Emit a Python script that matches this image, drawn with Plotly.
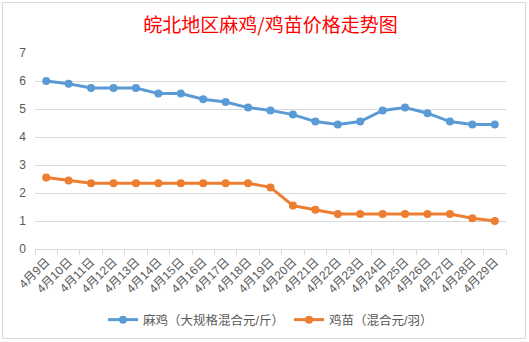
import plotly.graph_objects as go

dates = ["4月9日", "4月10日", "4月11日", "4月12日", "4月13日", "4月14日", "4月15日",
         "4月16日", "4月17日", "4月18日", "4月19日", "4月20日", "4月21日", "4月22日",
         "4月23日", "4月24日", "4月25日", "4月26日", "4月27日", "4月28日", "4月29日"]
maji = [6.0, 5.9, 5.75, 5.75, 5.75, 5.55, 5.55, 5.35, 5.25, 5.05, 4.95,
        4.8, 4.55, 4.45, 4.55, 4.95, 5.05, 4.85, 4.55, 4.45, 4.45]
jimiao = [2.55, 2.45, 2.35, 2.35, 2.35, 2.35, 2.35, 2.35, 2.35, 2.35, 2.2,
          1.55, 1.4, 1.25, 1.25, 1.25, 1.25, 1.25, 1.25, 1.1, 1.0]
name_maji = "麻鸡（大规格混合元/斤）"
name_jimiao = "鸡苗（混合元/羽）"
title_text = "皖北地区麻鸡/鸡苗价格走势图"
yticks = [0, 1, 2, 3, 4, 5, 6, 7]

FONT = "Liberation Sans, Noto Sans CJK SC, sans-serif"
GREY = "#595959"

fig = go.Figure()
fig.add_trace(go.Scatter(x=dates, y=maji, name=name_maji, mode="lines+markers",
                         line=dict(color="#5B9BD5", width=3),
                         marker=dict(color="#5B9BD5", size=8)))
fig.add_trace(go.Scatter(x=dates, y=jimiao, name=name_jimiao, mode="lines+markers",
                         line=dict(color="#ED7D31", width=3),
                         marker=dict(color="#ED7D31", size=8)))

L, R, T, B = 35, 23, 53, 93
W, H = 529, 342
pw, ph = W - L - R, H - T - B

def px(x):
    return (x - L) / pw

def py(y):
    return (H - B - y) / ph

fig.update_layout(
    width=W, height=H,
    margin=dict(l=L, r=R, t=T, b=B, autoexpand=False),
    paper_bgcolor="white", plot_bgcolor="white",
    font=dict(family=FONT, color=GREY, size=11),
    title=dict(text=title_text, x=0.5, xanchor="center", y=1 - 25 / H, yanchor="middle",
               xref="paper",
               font=dict(family="Noto Sans CJK SC", size=19, color="#FF0000")),
    showlegend=True,
    legend=dict(orientation="h", x=0.5, xanchor="center", y=py(320), yanchor="middle",
                font=dict(size=12.5, color=GREY), itemwidth=30, bgcolor="rgba(0,0,0,0)"),
    xaxis=dict(type="category", showgrid=False, showline=True, linecolor="#D9D9D9",
               linewidth=1, ticks="outside", tickson="boundaries", ticklen=5,
               tickcolor="#D9D9D9", tickangle=-45, tickfont=dict(size=12, color=GREY),
               range=[-0.5, len(dates) - 0.5], zeroline=False, fixedrange=True,
               automargin=False),
    yaxis=dict(range=[0, 7], tickvals=yticks, showgrid=True, gridcolor="#D9D9D9",
               gridwidth=1, zeroline=False, showline=False, ticks="",
               tickfont=dict(size=12, color=GREY), ticklabelstandoff=8, fixedrange=True,
               automargin=False),
    shapes=[
        dict(type="rect", xref="paper", yref="paper",
             x0=px(2.5), x1=px(525.5), y0=py(338.5), y1=py(2.5),
             line=dict(color="#D9D9D9", width=1), fillcolor="rgba(0,0,0,0)", layer="below"),
    ],
)

fig.write_html("out.html")
